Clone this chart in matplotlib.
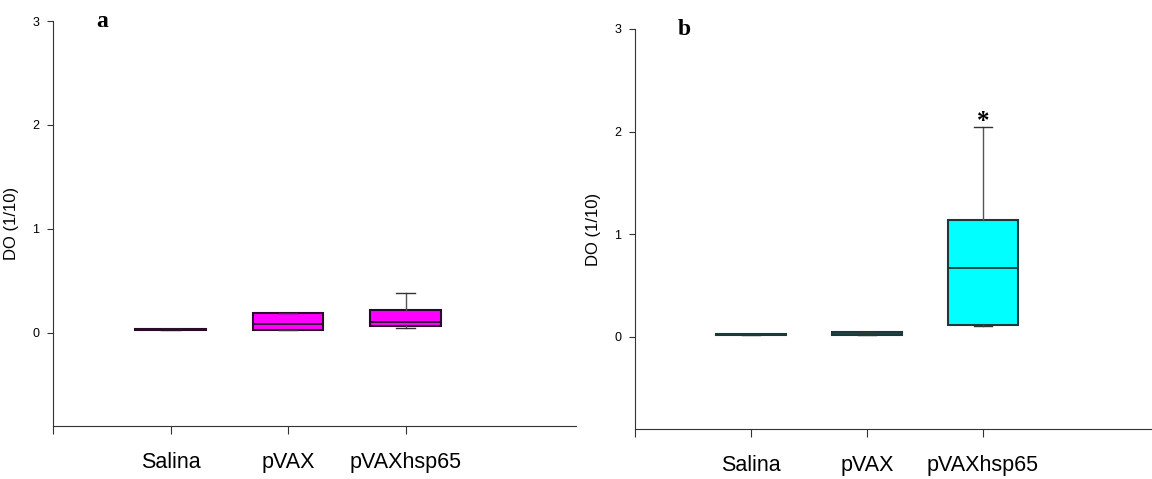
import numpy as np
import matplotlib
matplotlib.use('Agg')
from matplotlib import pyplot as plt

# groups on the x axis
groups = ['Salina', 'pVAX', 'pVAXhsp65']

# panel a box stats
a_whislo = [0.02, 0.02, 0.04]
a_q1 = [0.02, 0.02, 0.06]
a_med = [0.025, 0.085, 0.10]
a_q3 = [0.03, 0.19, 0.22]
a_whishi = [0.03, 0.19, 0.385]

# panel b box stats
b_whislo = [0.015, 0.015, 0.10]
b_q1 = [0.015, 0.015, 0.11]
b_med = [0.02, 0.03, 0.67]
b_q3 = [0.03, 0.05, 1.14]
b_whishi = [0.03, 0.05, 2.04]

plt.rcParams['font.family'] = ['Liberation Sans', 'DejaVu Sans']

fig = plt.figure(figsize=(11.52, 4.79), dpi=100)
ax_a = fig.add_axes([53/1152, (479-426)/479, 523/1152, (426-21)/479])
ax_b = fig.add_axes([635/1152, (479-429)/479, 516/1152, (429-29)/479])


def panel(ax, wlo, q1, med, q3, whi, face, edge, letter):
    stats = []
    for i in range(len(groups)):
        stats.append(dict(whislo=wlo[i], q1=q1[i], med=med[i], q3=q3[i],
                          whishi=whi[i], fliers=[]))
    ax.bxp(stats, positions=[1, 2, 3], widths=0.6, capwidths=0.16,
           patch_artist=True, manage_ticks=False,
           boxprops=dict(facecolor=face, edgecolor=edge, linewidth=1.5),
           medianprops=dict(color=edge, linewidth=1.3),
           whiskerprops=dict(color='#555555', linewidth=1),
           capprops=dict(color='#333333', linewidth=1))
    ax.set_xlim(0, 4.45)
    ax.set_ylim(-0.9, 3)
    ax.set_yticks([0, 1, 2, 3])
    ax.set_xticks([0, 1, 2, 3])
    ax.set_xticklabels([''] + groups, fontsize=15.5)
    ax.tick_params(axis='x', length=6, pad=13, color='#333333')
    ax.tick_params(axis='y', length=4, labelsize=9, color='#333333', pad=6)
    for s in ['top', 'right']:
        ax.spines[s].set_visible(False)
    for s in ['left', 'bottom']:
        ax.spines[s].set_color('#333333')
    ax.set_ylabel('DO (1/10)', fontsize=12)
    ax.yaxis.set_label_coords(-0.065, 0.5)
    ax.text(0.095, 0.998, letter, transform=ax.transAxes, fontsize=17,
            fontweight='bold', family='Liberation Serif', va='center', ha='center')


panel(ax_a, a_whislo, a_q1, a_med, a_q3, a_whishi, '#ff00ff', '#2a0a2a', 'a')
panel(ax_b, b_whislo, b_q1, b_med, b_q3, b_whishi, '#00ffff', '#1a3a3a', 'b')
ax_b.text(3, 1.99, '*', fontsize=18, fontweight='bold', family='Liberation Serif',
          ha='center', va='bottom')

fig.savefig('out.png', dpi=100)
